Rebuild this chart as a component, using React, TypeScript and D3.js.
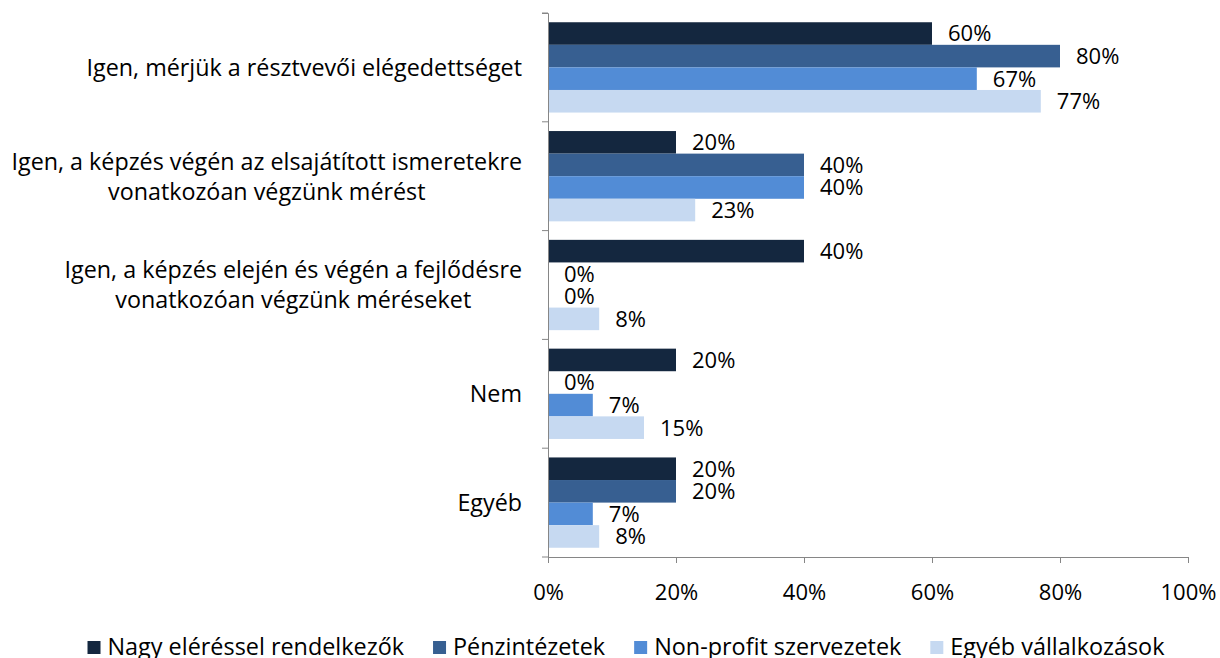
import React, { useEffect, useRef } from 'react';
import { select, scaleLinear, scaleBand, axisBottom, axisLeft } from 'd3';

const categories = [
  'Igen, mérjük a résztvevői elégedettséget',
  'Igen, a képzés végén az elsajátított ismeretekre\nvonatkozóan végzünk mérést',
  'Igen, a képzés elején és végén a fejlődésre\nvonatkozóan végzünk méréseket',
  'Nem',
  'Egyéb',
];
const seriesNames = ['Nagy eléréssel rendelkezők', 'Pénzintézetek', 'Non-profit szervezetek', 'Egyéb vállalkozások'];
const nagy = [60, 20, 40, 20, 20];
const penz = [80, 40, 0, 0, 20];
const nonprofit = [67, 40, 0, 7, 7];
const egyeb = [77, 23, 8, 15, 8];
const colors = ['#14273f', '#375f91', '#528cd6', '#c6d9f1'];
const xTicks = [0, 20, 40, 60, 80, 100];

const W = 1220;
const H = 658;
const FONT = '"Open Sans", sans-serif';
const FS_VAL = 22;
const FS_CAT = 23.3;
const FS_LEG = 23.4;

const App = () => {
  const svgRef = useRef<SVGSVGElement>(null);

  useEffect(() => {
    document.body.style.margin = '0';
    const svg = select(svgRef.current);
    svg.selectAll('*').remove();
    const series = [nagy, penz, nonprofit, egyeb];

    const x = scaleLinear().domain([0, 100]).range([548, 1188]);
    const y = scaleBand().domain(categories).range([13, 557]).paddingInner(0.17).paddingOuter(0.085);
    const yBand = scaleBand().domain(categories).range([13, 557]);
    const inner = scaleBand<number>().domain([0, 1, 2, 3]).range([0, y.bandwidth()]);

    // bars + value labels
    series.forEach((vals, si) => {
      const g = svg.append('g');
      g.selectAll('rect')
        .data(vals)
        .join('rect')
        .attr('x', x(0))
        .attr('y', (d, i) => y(categories[i])! + inner(si)!)
        .attr('width', d => x(d) - x(0))
        .attr('height', inner.bandwidth())
        .attr('fill', colors[si]);
      g.selectAll('text')
        .data(vals)
        .join('text')
        .attr('x', d => x(d) + 16)
        .attr('y', (d, i) => y(categories[i])! + inner(si)! + inner.bandwidth() / 2)
        .attr('dy', '0.36em')
        .attr('font-family', FONT)
        .attr('font-size', FS_VAL)
        .attr('fill', '#000')
        .text(d => d + '%');
    });

    // axes
    const ax = svg.append('g')
      .attr('transform', `translate(0,557)`)
      .call(axisBottom(x).tickValues(xTicks).tickSize(6).tickSizeOuter(0).tickFormat(d => d + '%'));
    ax.selectAll('line, path').attr('stroke', '#868686');
    ax.selectAll('text')
      .attr('font-family', FONT)
      .attr('font-size', FS_VAL)
      .attr('fill', '#000')
      .attr('dy', '0')
      .attr('y', 43);

    const ay = svg.append('g')
      .attr('transform', `translate(548,0)`)
      .call(axisLeft(yBand).tickSize(0).tickFormat(() => ''));
    ay.selectAll('.tick').remove();
    const bounds = [...categories.map(c => yBand(c)!), 557];
    ay.selectAll('line.bt')
      .data(bounds)
      .join('line')
      .attr('class', 'bt')
      .attr('x1', -6)
      .attr('x2', 0)
      .attr('y1', d => d)
      .attr('y2', d => d)
      .attr('stroke', '#868686');
    ay.select('path').attr('stroke', '#868686').attr('d', 'M-6,13.5H0.5V557.5');

    // category labels (right-aligned block, centred lines)
    categories.forEach(c => {
      const lines = c.split('\n');
      const cy = yBand(c)! + yBand.bandwidth() / 2;
      const g = svg.append('g');
      const texts = lines.map((l, li) =>
        g.append('text')
          .attr('y', cy + (li - (lines.length - 1) / 2) * 30)
          .attr('dy', '0.36em')
          .attr('font-family', FONT)
          .attr('font-size', FS_CAT)
          .attr('fill', '#000')
          .attr('text-anchor', 'middle')
          .text(l)
      );
      const maxW = Math.max(...texts.map(t => (t.node() as SVGTextElement).getComputedTextLength()));
      texts.forEach(t => t.attr('x', 522 - maxW / 2));
    });

    // legend
    const lg = svg.append('g');
    let cx = 0;
    seriesNames.forEach((n, i) => {
      lg.append('rect').attr('x', cx).attr('y', 641).attr('width', 13).attr('height', 13).attr('fill', colors[i]);
      const t = lg.append('text')
        .attr('x', cx + 20)
        .attr('y', 647)
        .attr('dy', '0.36em')
        .attr('font-family', FONT)
        .attr('font-size', FS_LEG)
        .attr('fill', '#000')
        .text(n);
      cx += 20 + (t.node() as SVGTextElement).getComputedTextLength() + 29;
    });
    const total = cx - 29;
    lg.attr('transform', `translate(${626 - total / 2},0)`);
  }, []);

  return <svg ref={svgRef} width={W} height={H} style={{ display: 'block', background: '#fff' }}></svg>;
};

export default App;
